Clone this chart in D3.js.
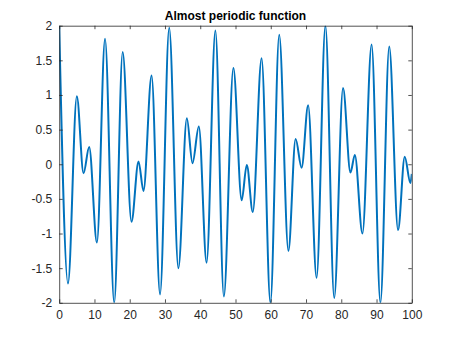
<!DOCTYPE html>
<html>
<head>
<meta charset="utf-8">
<script src="https://cdn.jsdelivr.net/npm/d3@7"></script>
<style>
  html, body { margin: 0; padding: 0; background: #fff; }
  svg { display: block; }
</style>
</head>
<body>
<script>
// Turning points of the curve (peaks and troughs), x and f(x)
const xs = [0, 2.5, 5.0, 6.9, 8.5, 10.7, 13.0, 15.6, 18.0, 20.5, 22.5, 23.9, 26.2, 28.6, 31.2,
            33.8, 36.2, 37.8, 39.6, 41.8, 44.3, 46.7, 49.4, 51.75, 53.2, 54.9, 57.4, 59.9, 62.4,
            65.0, 67.05, 68.75, 70.6, 73.0, 75.5, 78.0, 80.5, 82.6, 83.85, 86.0, 88.6, 91.1,
            93.6, 96.1, 98.0, 99.6, 100];
const ys = [2.0, -1.72, 0.98, -0.13, 0.25, -1.13, 1.81, -2.0, 1.62, -0.83, 0.04, -0.385, 1.28, -1.88, 1.97,
            -1.50, 0.665, 0.015, 0.545, -1.42, 1.93, -1.91, 1.39, -0.52, -0.01, -0.69, 1.53, -2.0, 1.87,
            -1.25, 0.366, -0.05, 0.85, -1.64, 2.0, -1.93, 1.10, -0.12, 0.135, -1.0, 1.73, -2.0,
            1.70, -0.95, 0.11, -0.27, -0.14];

const xTicks = [0, 10, 20, 30, 40, 50, 60, 70, 80, 90, 100];
const yTicks = [-2, -1.5, -1, -0.5, 0, 0.5, 1, 1.5, 2];
const title = "Almost periodic function";

const W = 455, H = 341;
const plotLeft = 59.2, plotRight = 411.8, plotTop = 25.7, plotBottom = 302.8;
const axisColor = "#262626";
const lineColor = "#0072BD";
const tickLen = 3.5;

const svg = d3.select("body").append("svg")
  .attr("width", W).attr("height", H)
  .style("font-family", "'Liberation Sans', Arial, Helvetica, sans-serif");

const x = d3.scaleLinear().domain([0, 100]).range([plotLeft, plotRight]);
const y = d3.scaleLinear().domain([-2, 2]).range([plotBottom, plotTop]);

svg.append("defs").append("clipPath").attr("id", "plotClip")
  .append("rect")
  .attr("x", plotLeft).attr("y", plotTop)
  .attr("width", plotRight - plotLeft).attr("height", plotBottom - plotTop);

// Curve
const pts = xs.map((v, i) => [v, ys[i]]);
const line = d3.line()
  .x(d => x(d[0]))
  .y(d => y(d[1]))
  .curve(d3.curveMonotoneX);

svg.append("path")
  .datum(pts)
  .attr("clip-path", "url(#plotClip)")
  .attr("fill", "none")
  .attr("stroke", lineColor)
  .attr("stroke-width", 2)
  .attr("stroke-linejoin", "round")
  .attr("d", line);

const fmt = d => String(d);

// Bottom and left axes with inward ticks
const gx = svg.append("g").attr("transform", `translate(0,${plotBottom})`)
  .call(d3.axisBottom(x).tickValues(xTicks).tickFormat(fmt).tickSizeInner(-tickLen).tickSizeOuter(0).tickPadding(8));
const gy = svg.append("g").attr("transform", `translate(${plotLeft},0)`)
  .call(d3.axisLeft(y).tickValues(yTicks).tickFormat(fmt).tickSizeInner(-tickLen).tickSizeOuter(0).tickPadding(7));
// Top and right mirrored ticks, no labels
const gt = svg.append("g").attr("transform", `translate(0,${plotTop})`)
  .call(d3.axisTop(x).tickValues(xTicks).tickFormat("").tickSizeInner(-tickLen).tickSizeOuter(0));
const gr = svg.append("g").attr("transform", `translate(${plotRight},0)`)
  .call(d3.axisRight(y).tickValues(yTicks).tickFormat("").tickSizeInner(-tickLen).tickSizeOuter(0));

[gx, gy, gt, gr].forEach(g => {
  g.selectAll("path.domain").attr("stroke", axisColor).attr("stroke-width", 0.8);
  g.selectAll(".tick line").attr("stroke", axisColor).attr("stroke-width", 0.8);
  g.selectAll(".tick text").attr("fill", axisColor).style("font-size", "12px");
});

// Title
svg.append("text")
  .attr("x", (plotLeft + plotRight) / 2)
  .attr("y", 20)
  .attr("text-anchor", "middle")
  .attr("fill", "#000")
  .style("font-size", "12px")
  .style("font-weight", "bold")
  .text(title);
</script>
</body>
</html>
